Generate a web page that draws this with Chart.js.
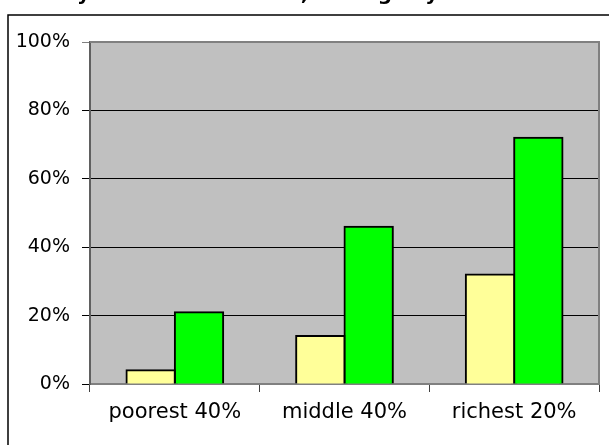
<!DOCTYPE html>
<html>
<head>
<meta charset="utf-8">
<script src="https://cdn.jsdelivr.net/npm/chart.js@4/dist/chart.umd.min.js"></script>
<style>
html,body{margin:0;padding:0;background:#fff;}
#wrap{position:absolute;left:0;top:0;width:609px;height:445px;}
</style>
</head>
<body>
<div id="wrap"><canvas id="c" width="609" height="445"></canvas></div>
<script>
const titleText = "Survey: school enrolment, among key income levels";
const categories = ["poorest 40%", "middle 40%", "richest 20%"];
const seriesA = [4, 14, 32];
const seriesB = [21, 46, 72];
const yTicks = [0, 20, 40, 60, 80, 100];

const FONT = "'DejaVu Sans', Verdana, sans-serif";

const framePlugin = {
  id: 'frame',
  beforeDraw(chart) {
    const ctx = chart.ctx, a = chart.chartArea;
    ctx.save();
    ctx.fillStyle = '#fff';
    ctx.fillRect(0, 0, chart.width, chart.height);
    ctx.strokeStyle = '#000';
    ctx.lineWidth = 1.5;
    ctx.strokeRect(8, 15, 800, 600);
    ctx.fillStyle = '#C0C0C0';
    ctx.fillRect(a.left, a.top, a.right - a.left, a.bottom - a.top);
    ctx.fillStyle = '#000';
    ctx.font = "bold 20px " + FONT;
    ctx.textAlign = 'left';
    ctx.textBaseline = 'alphabetic';
    ctx.fillText(titleText, 12, 0);
    ctx.restore();
  },
  afterDraw(chart) {
    const ctx = chart.ctx, a = chart.chartArea;
    ctx.save();
    ctx.strokeStyle = '#808080';
    ctx.lineWidth = 2;
    ctx.beginPath();
    ctx.moveTo(a.left, a.top);
    ctx.lineTo(a.right, a.top);
    ctx.lineTo(a.right, a.bottom);
    ctx.stroke();
    ctx.restore();
  }
};

new Chart(document.getElementById('c'), {
  type: 'bar',
  data: {
    labels: categories,
    datasets: [
      { data: seriesA, backgroundColor: '#FFFF99', borderColor: '#000', borderWidth: 2, inflateAmount: 1 },
      { data: seriesB, backgroundColor: '#00FF00', borderColor: '#000', borderWidth: 2, inflateAmount: 1 }
    ]
  },
  options: {
    responsive: false,
    animation: false,
    devicePixelRatio: 1,
    layout: { padding: { top: 42, right: 10, left: 0, bottom: 0 } },
    plugins: { legend: { display: false }, tooltip: { enabled: false }, title: { display: false } },
    datasets: { bar: { categoryPercentage: 0.57, barPercentage: 1.0 } },
    scales: {
      x: {
        afterFit(s) { s.height = 61; },
        grid: { offset: true, drawOnChartArea: false, drawTicks: true, tickLength: 8, color: '#404040', lineWidth: 1 },
        border: { color: '#808080', width: 2 },
        ticks: { color: '#000', font: { family: FONT, size: 21 }, padding: 8, maxRotation: 0 }
      },
      y: {
        min: 0, max: 100,
        afterFit(s) { s.width = 90; },
        afterBuildTicks(s) { s.ticks = yTicks.map(v => ({ value: v })); },
        grid: {
          drawTicks: true, tickLength: 8, lineWidth: 1,
          color: ctx => (ctx.tick && ctx.tick.value === 100) ? '#808080' : '#000'
        },
        border: { color: '#606060', width: 2 },
        ticks: { color: '#000', font: { family: FONT, size: 19 }, padding: 12, callback: v => v + '%' }
      }
    }
  },
  plugins: [framePlugin]
});
</script>
</body>
</html>
